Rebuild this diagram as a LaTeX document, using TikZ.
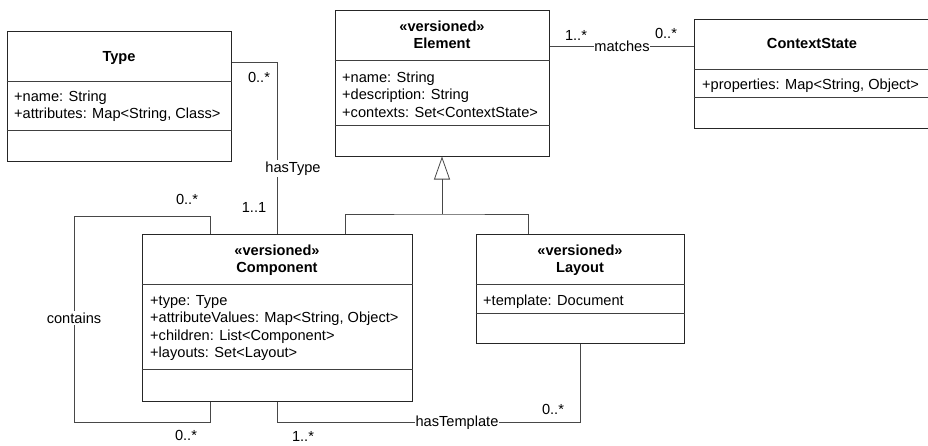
\documentclass[tikz,border=0pt]{standalone}
\usepackage{fontspec}
\setmainfont{Liberation Sans}
\usetikzlibrary{arrows.meta}
\begin{document}
\begin{tikzpicture}[x=1pt,y=-1pt,
  font=\fontsize{14.6}{17.5}\selectfont,
  classbox/.style={draw=black!85, line width=1pt, inner sep=0pt},
  sepline/.style={draw=black!75, line width=1pt},
  conn/.style={draw=black!72, line width=0.8pt},
  attr/.style={anchor=base west, inner sep=0pt},
  ttl/.style={anchor=base, inner sep=0pt, font=\fontsize{14.6}{17.5}\selectfont\bfseries},
  lbl/.style={anchor=base, inner sep=0pt},
  albl/.style={anchor=base, fill=white, inner xsep=0.6pt, inner ysep=1.5pt},
]
\useasboundingbox (0,0) rectangle (928,445);
\clip (0,0) rectangle (928,445);

% ---------- Type ----------
\node[classbox, minimum width=224pt, minimum height=130pt] (type) at (119,96) {};
\draw[sepline] (type.west |- 0,81) -- (type.east |- 0,81);
\draw[sepline] (type.west |- 0,130) -- (type.east |- 0,130);
\node[ttl] (typet) at (119,61) {Type};
\node[attr] (typea1) at (14,101) {+name: String};
\node[attr] (typea2) at (14,118.5) {+attributes: Map<String, Class>};

% ---------- Element ----------
\node[classbox, minimum width=214pt, minimum height=146pt] (elem) at (442,83) {};
\draw[sepline] (elem.west |- 0,60) -- (elem.east |- 0,60);
\draw[sepline] (elem.west |- 0,125) -- (elem.east |- 0,125);
\node[ttl] (elems) at (442,31.5) {«versioned»};
\node[ttl] (elemt) at (442,48) {Element};
\node[attr] (elema1) at (342,82) {+name: String};
\node[attr] (elema2) at (342,99.5) {+description: String};
\node[attr] (elema3) at (342,117) {+contexts: Set<ContextState>};

% ---------- ContextState ----------
\node[classbox, minimum width=236pt, minimum height=109pt] (ctx) at (812,73.5) {};
\draw[sepline] (ctx.west |- 0,69) -- (ctx.east |- 0,69);
\draw[sepline] (ctx.west |- 0,97) -- (ctx.east |- 0,97);
\node[ttl] (ctxt) at (812,48) {ContextState};
\node[attr] (ctxa1) at (702,89) {+properties: Map<String, Object>};

% ---------- Component ----------
\node[classbox, minimum width=270pt, minimum height=167pt] (comp) at (277,317.5) {};
\draw[sepline] (comp.west |- 0,284) -- (comp.east |- 0,284);
\draw[sepline] (comp.west |- 0,369) -- (comp.east |- 0,369);
\node[ttl] (comps) at (277,255) {«versioned»};
\node[ttl] (compt) at (277,272) {Component};
\node[attr] (compa1) at (150,305) {+type: Type};
\node[attr] (compa2) at (150,322.5) {+attributeValues: Map<String, Object>};
\node[attr] (compa3) at (150,340) {+children: List<Component>};
\node[attr] (compa4) at (150,357.5) {+layouts: Set<Layout>};

% ---------- Layout ----------
\node[classbox, minimum width=208pt, minimum height=109pt] (layout) at (580,288.5) {};
\draw[sepline] (layout.west |- 0,284) -- (layout.east |- 0,284);
\draw[sepline] (layout.west |- 0,313) -- (layout.east |- 0,313);
\node[ttl] (lays) at (580,255) {«versioned»};
\node[ttl] (layt) at (580,272) {Layout};
\node[attr] (laya1) at (483,305) {+template: Document};

% ---------- hasType ----------
\draw[conn] ([yshift=-32pt]type.north east) -| (comp.north);
\node[lbl] (ht0) at (259,82) {0..*};
\node[albl] (htl) at (293,172) {hasType};
\node[lbl] (ht1) at (254,212) {1..1};

% ---------- matches ----------
\draw[conn] ([yshift=-37pt]elem.north east) coordinate (m1) -- (m1 -| ctx.west);
\node[lbl] (mt1) at (576,40) {1..*};
\node[albl] (mtl) at (622,51.5) {matches};
\node[lbl] (mt0) at (666,38) {0..*};

% ---------- generalization ----------
\coordinate (gj) at (elem.south |- 0,214);
\draw[conn, -{Triangle[open, length=23pt, width=16pt]}] (gj) -- (elem.south);
\draw[conn] ([xshift=68pt]comp.north) |- (gj) -| ([xshift=-52pt]layout.north);

% ---------- hasTemplate ----------
\draw[conn] (comp.south) -- ++(0,21) coordinate (htb) -| (layout.south);
\node[albl] (htpl) at (457,426.5) {hasTemplate};
\node[lbl] (htp0) at (553,414) {0..*};
\node[lbl] (htp1) at (303,441.5) {1..*};

% ---------- contains ----------
\coordinate (clt) at (74,216);
\coordinate (clb) at (74,422);
\draw[conn] ([xshift=-67pt]comp.north) |- (clt) -- (clb) -| ([xshift=-67pt]comp.south);
\node[albl] (cl) at (74,323) {contains};
\node[lbl] (ct0) at (187,204) {0..*};
\node[lbl] (cb0) at (186,440) {0..*};
\end{tikzpicture}
\end{document}
